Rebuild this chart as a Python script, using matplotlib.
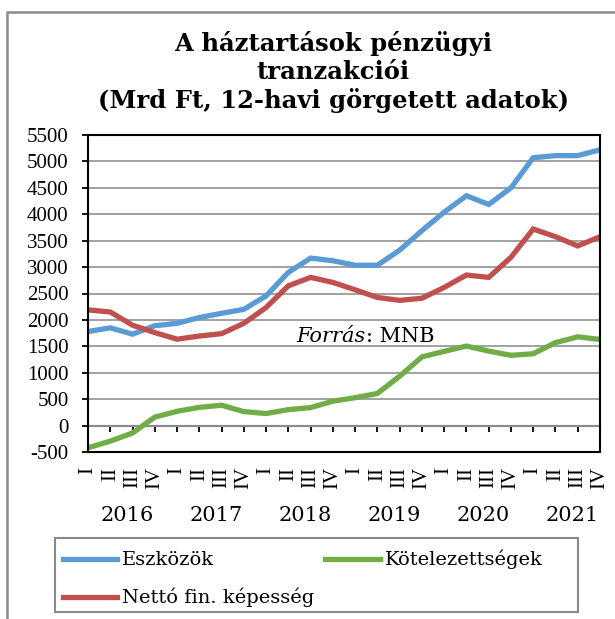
import matplotlib.pyplot as plt
from matplotlib.patches import Rectangle

# Negyedéves adatok 2016 I - 2021 IV (Mrd Ft)
negyedevek = ['I', 'II', 'III', 'IV'] * 6
evek = ['2016', '2017', '2018', '2019', '2020', '2021']

eszkozok = [1780, 1850, 1730, 1890, 1935, 2045, 2125, 2200, 2455, 2900, 3170, 3120,
            3035, 3035, 3320, 3690, 4040, 4350, 4185, 4500, 5070, 5110, 5110, 5220]
kotelezettsegek = [-420, -295, -140, 160, 270, 345, 385, 265, 228, 302, 340, 462,
                   528, 608, 935, 1300, 1405, 1505, 1410, 1330, 1360, 1570, 1680, 1630]
netto = [2190, 2150, 1900, 1760, 1635, 1695, 1740, 1935, 2235, 2645, 2805, 2710,
         2570, 2425, 2370, 2410, 2615, 2850, 2805, 3185, 3720, 3575, 3400, 3575]

kek = '#5B9BD5'
zold = '#70AD47'
piros = '#C0504D'
szurke = '#8a8a8a'

plt.rcParams['font.family'] = 'Liberation Serif'
plt.rcParams['axes.unicode_minus'] = False

fig = plt.figure(figsize=(6.15, 6.19), dpi=100)
ax = fig.add_axes([88 / 615, 1 - 452 / 619, 512 / 615, 317 / 619])

x = list(range(len(negyedevek)))
vonal_e, = ax.plot(x, eszkozok, color=kek, lw=3.8, solid_joinstyle='miter')
vonal_k, = ax.plot(x, kotelezettsegek, color=zold, lw=3.8, solid_joinstyle='miter')
vonal_n, = ax.plot(x, netto, color=piros, lw=3.8, solid_joinstyle='miter')

ax.set_xlim(0, len(x) - 1)
ax.set_ylim(-500, 5500)
ax.set_yticks(range(-500, 5501, 500))
ax.yaxis.grid(True, color='#9a9a9a', lw=1.3)
ax.set_axisbelow(True)
ax.tick_params(axis='y', labelsize=15, length=4.5, width=1.3, pad=9.5)
for s in ax.spines.values():
    s.set_linewidth(1.5)

# negyedév feliratok a keret alatt, osztásjelek a 0 vonalon
ax.set_xticks(x)
ax.set_xticklabels(negyedevek, rotation=90, fontsize=15)
ax.tick_params(axis='x', length=0, pad=11)

nulla = ax.secondary_xaxis(500 / 6000)
nulla.set_xticks(x)
nulla.tick_params(axis='x', direction='out', length=4.5, width=1.3, labelbottom=False,
                  labeltop=False, bottom=True, top=False)
nulla.spines['bottom'].set_linewidth(1.5)
nulla.spines['top'].set_visible(False)

for k, ev in enumerate(evek):
    ax.text(4 * k + 1.75, -1710, ev, ha='center', va='center', fontsize=15,
            family='DejaVu Serif')

t = ax.text(9.38, 1690, 'Forrás', fontsize=15, style='italic', va='center',
            family='DejaVu Serif')
ax.annotate(': MNB', xy=(1, 0), xycoords=t, va='bottom', fontsize=15,
            family='DejaVu Serif')

fig.text(333 / 615, 1 - 72 / 619,
         'A háztartások pénzügyi\ntranzakciói\n(Mrd Ft, 12-havi görgetett adatok)',
         ha='center', va='center', fontsize=17.5, fontweight='bold',
         family='DejaVu Serif', linespacing=1.23)

# jelmagyarázat
fig.add_artist(Rectangle((55 / 615, 1 - 612 / 619), 523 / 615, 74 / 619,
                         transform=fig.transFigure, fill=False,
                         edgecolor=szurke, lw=1.5))
fig.legend([vonal_e, vonal_n, vonal_k],
           ['Eszközök', 'Nettó fin. képesség', 'Kötelezettségek'],
           ncol=2, frameon=False, loc='upper left',
           prop={'family': 'DejaVu Serif', 'size': 14},
           bbox_to_anchor=(61 / 615, 1 - 548 / 619), handlelength=2.8,
           handletextpad=0.25, columnspacing=0.55, labelspacing=0.95,
           borderaxespad=0, borderpad=0.1)

# külső keret
fig.add_artist(Rectangle((7 / 615, -0.1), 1.2, 1.1 - 12 / 619,
                         transform=fig.transFigure, fill=False,
                         edgecolor=szurke, lw=1.8))

fig.savefig('out.png', dpi=100)
